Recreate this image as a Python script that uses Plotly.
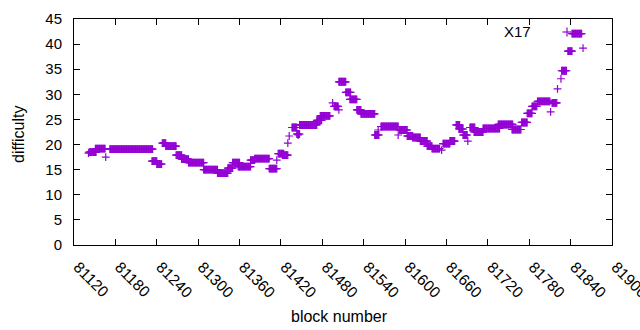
import plotly.graph_objects as go

# Runs of consecutive blocks sharing one difficulty value (start block, end block, difficulty)
run_start = [81142, 81151, 81172, 81233, 81240, 81248, 81253, 81268, 81276, 81286,
             81308, 81328, 81343, 81350, 81358, 81376, 81382, 81403, 81416, 81422,
             81436, 81443, 81447, 81472, 81477, 81497, 81504, 81514, 81520, 81530,
             81536, 81556, 81565, 81592, 81603, 81611, 81622, 81632, 81639, 81655,
             81665, 81674, 81678, 81684, 81694, 81700, 81713, 81735, 81755, 81769,
             81777, 81784, 81792, 81813, 81827, 81836, 81842]
run_end = [81152, 81165, 81234, 81240, 81247, 81253, 81268, 81276, 81286, 81308,
           81328, 81343, 81350, 81360, 81376, 81382, 81403, 81414, 81424, 81430,
           81443, 81447, 81472, 81479, 81491, 81503, 81514, 81521, 81530, 81536,
           81556, 81562, 81590, 81603, 81611, 81622, 81632, 81639, 81650, 81665,
           81672, 81679, 81684, 81690, 81701, 81713, 81737, 81756, 81768, 81777,
           81784, 81791, 81810, 81820, 81834, 81842, 81856]
run_value = [18.5, 19.2, 19.1, 16.7, 16.1, 20.3, 19.7, 17.9, 17.1, 16.4,
             15.0, 14.3, 15.3, 16.4, 15.6, 16.9, 17.2, 15.2, 18.2, 17.9,
             23.4, 22.1, 23.9, 24.8, 25.7, 27.6, 32.5, 30.4, 29.0, 26.9,
             26.1, 21.9, 23.6, 22.9, 21.7, 21.4, 20.7, 19.7, 19.2, 20.2,
             20.7, 23.9, 23.1, 21.9, 23.4, 22.5, 23.2, 24.0, 23.0, 24.4,
             26.2, 27.6, 28.6, 28.3, 34.7, 38.6, 42.1]

# Isolated blocks
single_block = [81141, 81166, 81414, 81430, 81432, 81445, 81495, 81504, 81561, 81590,
                81653, 81691, 81811, 81821, 81826, 81858]
single_value = [18.3, 17.5, 16.9, 20.3, 21.7, 21.9, 28.3, 26.9, 22.9, 21.9,
                18.9, 20.7, 26.5, 31.1, 33.1, 39.2]

x_ticks = list(range(81120, 81901, 60))
y_ticks = list(range(0, 46, 5))

xs, ys = [], []
for a, b, v in zip(run_start, run_end, run_value):
    for blk in range(a, b + 1):
        xs.append(blk)
        ys.append(v)
xs += single_block
ys += single_value

COLOR = "#9400D3"
FONT = "Liberation Sans"

fig = go.Figure()
fig.add_trace(go.Scatter(
    x=xs, y=ys, mode="markers", name="X17", showlegend=False,
    marker=dict(symbol="cross-thin", size=5.6, color=COLOR,
                line=dict(color=COLOR, width=1.2)),
))

L, R, T, B = 74, 28, 19, 85
W, H = 640, 330
pw, ph = W - L - R, H - T - B

axis_common = dict(showline=True, linecolor="black", linewidth=1, mirror="allticks",
                   ticks="inside", ticklen=6, tickcolor="black", tickwidth=1,
                   showgrid=False, zeroline=False, ticklabeloverflow="allow")

fig.update_xaxes(range=[81120, 81900], tickvals=x_ticks,
                 ticktext=[str(v) for v in x_ticks], tickangle=45,
                 ticklabelstandoff=6, ticklabelshift=4,
                 tickfont=dict(family=FONT, size=15.5, color="black"), **axis_common)
fig.update_yaxes(range=[0, 45], tickvals=y_ticks,
                 ticktext=[str(v) for v in y_ticks],
                 ticklabelstandoff=8,
                 tickfont=dict(family=FONT, size=15, color="black"), **axis_common)

# key: "X17" text followed by a + sample
kx, ky = 567, 32
fig.add_annotation(x=(533 - L) / pw, y=(H - B - 31.5) / ph, xref="paper", yref="paper",
                   text="X17", showarrow=False, xanchor="right", yanchor="middle",
                   font=dict(family=FONT, size=15, color="black"))
cx, cy = (kx - L) / pw, (H - B - ky) / ph
fig.add_shape(type="line", xref="paper", yref="paper", x0=cx - 4.5 / pw, x1=cx + 4.5 / pw,
              y0=cy, y1=cy, line=dict(color=COLOR, width=1.2))
fig.add_shape(type="line", xref="paper", yref="paper", x0=cx, x1=cx,
              y0=cy - 4.5 / ph, y1=cy + 4.5 / ph, line=dict(color=COLOR, width=1.2))

# axis titles
fig.add_annotation(x=(339.5 - L) / pw, y=-(316 - (H - B)) / ph, xref="paper", yref="paper",
                   text="block number", showarrow=False, xanchor="center", yanchor="middle",
                   font=dict(family=FONT, size=16, color="black"))
fig.add_annotation(x=-(L - 18) / pw, y=(H - B - 134) / ph, xref="paper", yref="paper",
                   text="difficulty", showarrow=False, textangle=-90,
                   xanchor="center", yanchor="middle",
                   font=dict(family=FONT, size=16, color="black"))

fig.update_layout(width=W, height=H, margin=dict(l=L, r=R, t=T, b=B, autoexpand=False),
                  paper_bgcolor="white", plot_bgcolor="white", showlegend=False)

fig.write_html("out.html", config={"displayModeBar": False},
               post_script="document.body.style.margin='0';document.body.style.overflow='hidden';")
